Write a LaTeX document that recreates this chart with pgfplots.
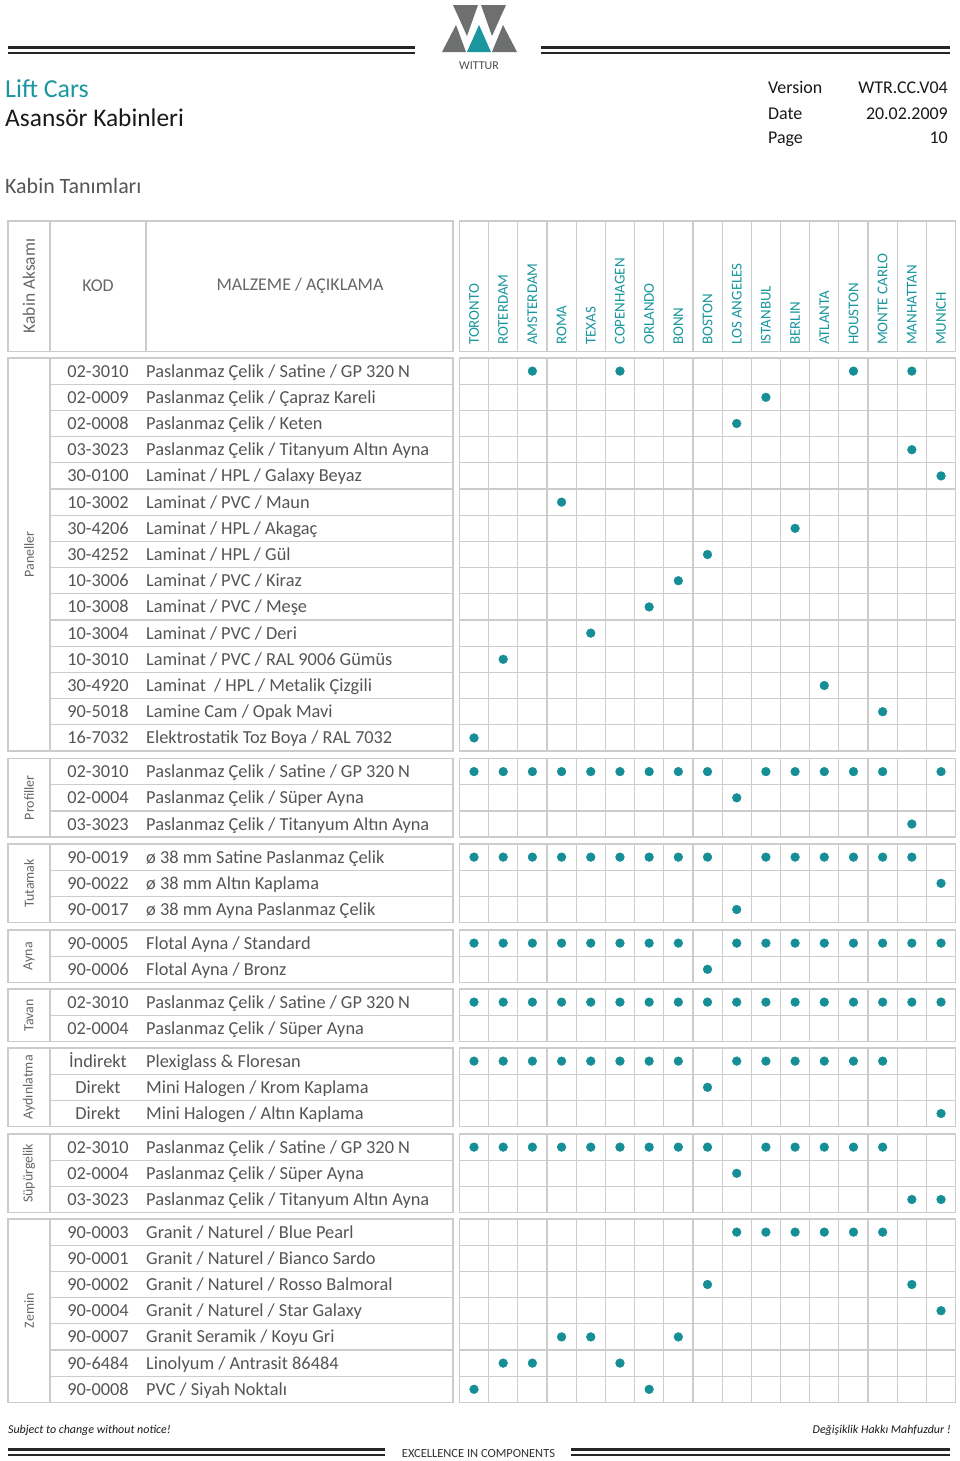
\documentclass[border=0pt]{standalone}
\usepackage{pgfplots}
\pgfplotsset{compat=1.18}
\usepackage{fontspec}
\setmainfont{Carlito}
\definecolor{teal1}{HTML}{1A979E}
\definecolor{dotc}{HTML}{168E96}
\definecolor{gtxt}{HTML}{555555}
\definecolor{glab}{HTML}{666666}
\definecolor{gline}{HTML}{CCCCCC}
\definecolor{logog}{HTML}{6D706F}
\newcommand\fs[1]{\fontsize{#1}{#1}\selectfont}
% section box: top, nrows, label
\newcommand\sect[3]{%
  \pgfmathsetmacro\bot{#1+26.2*#2}%
  \pgfmathtruncatemacro\nm{#2-1}%
  \draw[gline, line width=1.4bp] (8,#1) rectangle (453,\bot);
  \draw[gline, line width=1.4bp] (50,#1) -- (50,\bot);
  \draw[gline, line width=1.4bp] (459.4,#1) rectangle (955.6,\bot);
  \foreach \j in {1,...,16} {\draw[gline, line width=1.2bp] ({459.4+29.19*\j},#1) -- ({459.4+29.19*\j},\bot);}
  \foreach \k in {1,...,\nm} {\draw[gline, line width=1.2bp] (50,{#1+26.2*\k}) -- (453,{#1+26.2*\k});
    \draw[gline, line width=1.2bp] (459.4,{#1+26.2*\k}) -- (955.6,{#1+26.2*\k});}
  \node[rotate=90, glab, font=\fs{14}, inner sep=0] at (29,{(#1+\bot)/2}) {#3};
}
% row text: top, k, code, description
\newcommand\rw[4]{%
  \node[anchor=base, gtxt, font=\fs{18.4}, inner sep=0] at (98,{#1+26.2*#2+19.1}) {#3};
  \node[anchor=base west, gtxt, font=\fs{18.4}, inner sep=0] at (146,{#1+26.2*#2+19.1}) {#4};
}
\begin{document}
\begin{tikzpicture}
\useasboundingbox (0,0) rectangle (960bp,-1461bp);
\fill[white] (0,0) rectangle (960bp,-1461bp);
\begin{scope}[x=1bp,y=-1bp]
% header lines
\draw[line width=3bp, black!85] (8,47) -- (415,47);
\draw[line width=2bp, black!85] (8,53) -- (415,53);
\draw[line width=3bp, black!85] (541,47) -- (950,47);
\draw[line width=2bp, black!85] (541,53) -- (950,53);
% logo
\fill[logog] (453,5) -- (478,5) -- (467,36) -- cycle;
\fill[logog] (481,5) -- (506,5) -- (492,36) -- cycle;
\fill[logog] (442,52) -- (466,52) -- (456,25) -- cycle;
\fill[teal1] (467,52) -- (491,52) -- (479,25) -- cycle;
\fill[logog] (492,52) -- (517,52) -- (503,25) -- cycle;
\node[black!70, font=\fs{12}, inner sep=0] at (479,66) {WITTUR};
% titles
\node[anchor=base west, teal1, font=\fs{26}, inner sep=0] at (5,97) {Lift Cars};
\node[anchor=base west, black!90, font=\fs{25.5}, inner sep=0] at (5,126) {Asansör Kabinleri};
\node[anchor=base west, black!90, font=\fs{18}, inner sep=0] at (768,93) {Version};
\node[anchor=base east, black!90, font=\fs{18}, inner sep=0] at (948,93) {WTR.CC.V04};
\node[anchor=base west, black!90, font=\fs{18}, inner sep=0] at (768,119) {Date};
\node[anchor=base east, black!90, font=\fs{18}, inner sep=0] at (948,119) {20.02.2009};
\node[anchor=base west, black!90, font=\fs{18}, inner sep=0] at (768,143) {Page};
\node[anchor=base east, black!90, font=\fs{18}, inner sep=0] at (948,143) {10};
\node[anchor=base west, gtxt, font=\fs{22}, inner sep=0] at (5,193) {Kabin Tanımları};
% header box
\draw[gline, line width=1.4bp] (8,221) rectangle (453,351.5);
\draw[gline, line width=1.4bp] (50,221) -- (50,351.5);
\draw[gline, line width=1.4bp] (146,221) -- (146,351.5);
\draw[gline, line width=1.4bp] (459.4,221) rectangle (955.6,351.5);
\foreach \j in {1,...,16} {\draw[gline, line width=1.2bp] ({459.4+29.19*\j},221) -- ({459.4+29.19*\j},351.5);}
\node[rotate=90, glab, font=\fs{17.5}, inner sep=0] at (29,286) {Kabin Aksamı};
\node[glab, font=\fs{18}, inner sep=0] at (98,286) {KOD};
\node[glab, font=\fs{18}, inner sep=0] at (300,286) {MALZEME / AÇIKLAMA};
\foreach \n [count=\i from 0] in {TORONTO,ROTERDAM,AMSTERDAM,ROMA,TEXAS,COPENHAGEN,ORLANDO,BONN,BOSTON,LOS ANGELES,ISTANBUL,BERLIN,ATLANTA,HOUSTON,MONTE CARLO,MANHATTAN,MUNICH}
  {\node[rotate=90, anchor=west, teal1, font=\fs{15}, inner sep=0] at ({474+29.19*\i},345) {\n};}
% sections
\sect{358}{15}{Paneller}
\sect{758.5}{3}{Profiller}
\sect{844}{3}{Tutamak}
\sect{930}{2}{Ayna}
\sect{989}{2}{Tavan}
\sect{1048}{3}{Aydınlatma}
\sect{1134}{3}{Süpürgelik}
\sect{1219}{7}{Zemin}
% rows
\rw{358}{0}{02-3010}{Paslanmaz Çelik / Satine / GP 320 N}
\rw{358}{1}{02-0009}{Paslanmaz Çelik / Çapraz Kareli}
\rw{358}{2}{02-0008}{Paslanmaz Çelik / Keten}
\rw{358}{3}{03-3023}{Paslanmaz Çelik / Titanyum Altın Ayna}
\rw{358}{4}{30-0100}{Laminat / HPL / Galaxy Beyaz}
\rw{358}{5}{10-3002}{Laminat / PVC / Maun}
\rw{358}{6}{30-4206}{Laminat / HPL / Akagaç}
\rw{358}{7}{30-4252}{Laminat / HPL / Gül}
\rw{358}{8}{10-3006}{Laminat / PVC / Kiraz}
\rw{358}{9}{10-3008}{Laminat / PVC / Meşe}
\rw{358}{10}{10-3004}{Laminat / PVC / Deri}
\rw{358}{11}{10-3010}{Laminat / PVC / RAL 9006 Gümüs}
\rw{358}{12}{30-4920}{Laminat \ / HPL / Metalik Çizgili}
\rw{358}{13}{90-5018}{Lamine Cam / Opak Mavi}
\rw{358}{14}{16-7032}{Elektrostatik Toz Boya / RAL 7032}
\rw{758.5}{0}{02-3010}{Paslanmaz Çelik / Satine / GP 320 N}
\rw{758.5}{1}{02-0004}{Paslanmaz Çelik / Süper Ayna}
\rw{758.5}{2}{03-3023}{Paslanmaz Çelik / Titanyum Altın Ayna}
\rw{844}{0}{90-0019}{ø 38 mm Satine Paslanmaz Çelik}
\rw{844}{1}{90-0022}{ø 38 mm Altın Kaplama}
\rw{844}{2}{90-0017}{ø 38 mm Ayna Paslanmaz Çelik}
\rw{930}{0}{90-0005}{Flotal Ayna / Standard}
\rw{930}{1}{90-0006}{Flotal Ayna / Bronz}
\rw{989}{0}{02-3010}{Paslanmaz Çelik / Satine / GP 320 N}
\rw{989}{1}{02-0004}{Paslanmaz Çelik / Süper Ayna}
\rw{1048}{0}{İndirekt}{Plexiglass \& Floresan}
\rw{1048}{1}{Direkt}{Mini Halogen / Krom Kaplama}
\rw{1048}{2}{Direkt}{Mini Halogen / Altın Kaplama}
\rw{1134}{0}{02-3010}{Paslanmaz Çelik / Satine / GP 320 N}
\rw{1134}{1}{02-0004}{Paslanmaz Çelik / Süper Ayna}
\rw{1134}{2}{03-3023}{Paslanmaz Çelik / Titanyum Altın Ayna}
\rw{1219}{0}{90-0003}{Granit / Naturel / Blue Pearl}
\rw{1219}{1}{90-0001}{Granit / Naturel / Bianco Sardo}
\rw{1219}{2}{90-0002}{Granit / Naturel / Rosso Balmoral}
\rw{1219}{3}{90-0004}{Granit / Naturel / Star Galaxy}
\rw{1219}{4}{90-0007}{Granit Seramik / Koyu Gri}
\rw{1219}{5}{90-6484}{Linolyum / Antrasit 86484}
\rw{1219}{6}{90-0008}{PVC / Siyah Noktalı}
% footer
\node[anchor=base west, black!90, font=\fs{12}\itshape, inner sep=0] at (8,1433) {Subject to change without notice!};
\node[anchor=base east, black!90, font=\fs{12}\itshape, inner sep=0] at (951,1433) {Değişiklik Hakkı Mahfuzdur !};
\draw[line width=2.5bp, black!85] (8,1449.5) -- (385,1449.5);
\draw[line width=1.6bp, black!85] (8,1455) -- (385,1455);
\draw[line width=2.5bp, black!85] (571,1449.5) -- (950,1449.5);
\draw[line width=1.6bp, black!85] (571,1455) -- (950,1455);
\node[black!80, font=\fs{12.5}, inner sep=0] at (478.5,1453) {EXCELLENCE IN COMPONENTS};
\end{scope}
\begin{axis}[at={(0,0)}, anchor=north west, width=960bp, height=1461bp, scale only axis,
  xmin=0, xmax=960, ymin=0, ymax=1461, y dir=reverse, hide axis, clip=false]
\addplot[only marks, mark=*, mark size=4.4pt, dotc, mark options={draw=dotc, fill=dotc}]
  table[x expr={474+29.19*(\thisrow{c}-1)}, y=y] {
c y
3 371.1
6 371.1
14 371.1
16 371.1
11 397.3
10 423.5
16 449.7
17 475.9
4 502.1
12 528.3
9 554.5
8 580.7
7 606.9
5 633.1
2 659.3
13 685.5
15 711.7
1 737.9
1 771.6
2 771.6
3 771.6
4 771.6
5 771.6
6 771.6
7 771.6
8 771.6
9 771.6
11 771.6
12 771.6
13 771.6
14 771.6
15 771.6
17 771.6
10 797.8
16 824.0
1 857.1
2 857.1
3 857.1
4 857.1
5 857.1
6 857.1
7 857.1
8 857.1
9 857.1
11 857.1
12 857.1
13 857.1
14 857.1
15 857.1
16 857.1
17 883.3
10 909.5
1 943.1
2 943.1
3 943.1
4 943.1
5 943.1
6 943.1
7 943.1
8 943.1
10 943.1
11 943.1
12 943.1
13 943.1
14 943.1
15 943.1
16 943.1
17 943.1
9 969.3
1 1002.1
2 1002.1
3 1002.1
4 1002.1
5 1002.1
6 1002.1
7 1002.1
8 1002.1
9 1002.1
10 1002.1
11 1002.1
12 1002.1
13 1002.1
14 1002.1
15 1002.1
16 1002.1
17 1002.1
1 1061.1
2 1061.1
3 1061.1
4 1061.1
5 1061.1
6 1061.1
7 1061.1
8 1061.1
10 1061.1
11 1061.1
12 1061.1
13 1061.1
14 1061.1
15 1061.1
9 1087.3
17 1113.5
1 1147.1
2 1147.1
3 1147.1
4 1147.1
5 1147.1
6 1147.1
7 1147.1
8 1147.1
9 1147.1
11 1147.1
12 1147.1
13 1147.1
14 1147.1
15 1147.1
10 1173.3
16 1199.5
17 1199.5
10 1232.1
11 1232.1
12 1232.1
13 1232.1
14 1232.1
15 1232.1
9 1284.5
16 1284.5
17 1310.7
4 1336.9
5 1336.9
8 1336.9
2 1363.1
3 1363.1
6 1363.1
1 1389.3
7 1389.3
};
\end{axis}
\end{tikzpicture}
\end{document}
